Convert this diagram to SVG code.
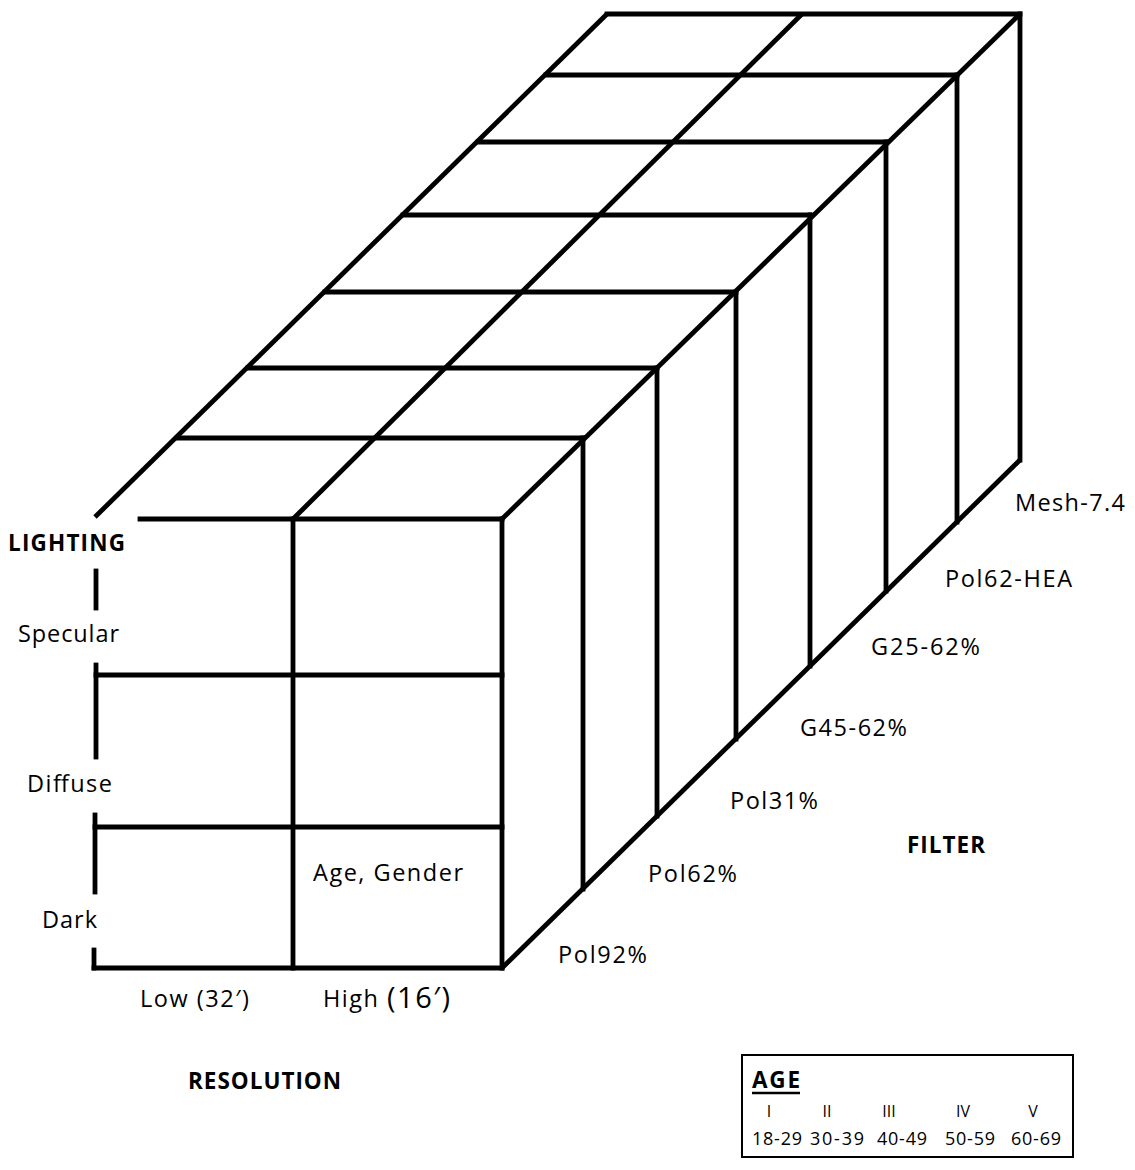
<svg xmlns="http://www.w3.org/2000/svg" width="1135" height="1170" viewBox="0 0 1135 1170">
<style>
  .ln { stroke: #000; stroke-width: 4.8; fill: none; stroke-linecap: square; stroke-linejoin: miter; }
  .dg { stroke: #000; stroke-width: 4.8; fill: none; stroke-linecap: butt; }
  .t { font-family: "Open Sans", "Liberation Sans", sans-serif; font-size: 23.5px; fill: #000; }
  .big { font-size: 29px; }
  .b { font-family: "Open Sans", "Liberation Sans", sans-serif; font-size: 22.5px; font-weight: bold; fill: #000; }
  .s { font-family: "Open Sans", "Liberation Sans", sans-serif; font-size: 18px; fill: #000; }
  .r { font-family: "Open Sans", "Liberation Sans", sans-serif; font-size: 16px; fill: #000; text-anchor: middle; }
</style>
<rect width="1135" height="1170" fill="#fff"/>

<g id="cube">
  <!-- depth lines -->
  <line class="dg" x1="95" y1="517" x2="607" y2="14"/>
  <line class="dg" x1="293" y1="519" x2="802" y2="14"/>
  <line class="dg" x1="502" y1="519" x2="1020" y2="14"/>
  <line class="dg" x1="502" y1="968" x2="1020" y2="460"/>
  <!-- top horizontals -->
  <line class="ln" x1="177" y1="438" x2="583" y2="438"/>
  <line class="ln" x1="248" y1="368" x2="657" y2="368"/>
  <line class="ln" x1="325" y1="292" x2="736" y2="292"/>
  <line class="ln" x1="403" y1="215" x2="810" y2="215"/>
  <line class="ln" x1="478" y1="142" x2="886" y2="142"/>
  <line class="ln" x1="546" y1="75" x2="957" y2="75"/>
  <line class="ln" x1="607" y1="14" x2="1020" y2="14"/>
  <!-- filter panel verticals -->
  <line class="ln" x1="583" y1="438" x2="583" y2="889"/>
  <line class="ln" x1="657" y1="368" x2="657" y2="816"/>
  <line class="ln" x1="736" y1="292" x2="736" y2="739"/>
  <line class="ln" x1="810" y1="215" x2="810" y2="666"/>
  <line class="ln" x1="886" y1="142" x2="886" y2="591"/>
  <line class="ln" x1="957" y1="75" x2="957" y2="522"/>
  <line class="ln" x1="1020" y1="14" x2="1020" y2="460"/>
  <!-- front face -->
  <line class="ln" x1="140" y1="519" x2="502" y2="519"/>
  <line class="ln" x1="96" y1="675" x2="502" y2="675"/>
  <line class="ln" x1="95" y1="827" x2="502" y2="827"/>
  <line class="ln" x1="94" y1="968" x2="502" y2="968"/>
  <line class="ln" x1="293" y1="519" x2="293" y2="968"/>
  <line class="ln" x1="502" y1="519" x2="502" y2="968"/>
  <!-- lighting axis bars -->
  <line class="ln" x1="96" y1="571" x2="96" y2="608"/>
  <line class="ln" x1="96" y1="665" x2="96" y2="757"/>
  <line class="ln" x1="95" y1="815" x2="95" y2="892"/>
  <line class="ln" x1="94" y1="950" x2="94" y2="968"/>
</g>

<g id="lighting-axis">
  <text class="b" x="8" y="551" textLength="117" lengthAdjust="spacing">LIGHTING</text>
  <text class="t" x="18" y="642" textLength="101" lengthAdjust="spacing">Specular</text>
  <text class="t" x="27" y="792" textLength="85" lengthAdjust="spacing">Diffuse</text>
  <text class="t" x="42" y="928" textLength="55" lengthAdjust="spacing">Dark</text>
</g>

<g id="resolution-axis">
  <text class="t" x="140" y="1007" textLength="109" lengthAdjust="spacing">Low (32′)</text>
  <text class="t" x="323" y="1007" textLength="55" lengthAdjust="spacing">High</text>
  <text class="t big" x="387" y="1008" textLength="63" lengthAdjust="spacing">(16′)</text>
  <text class="b" x="188" y="1089" textLength="153" lengthAdjust="spacing">RESOLUTION</text>
</g>

<g id="cell-label">
  <text class="t" x="313" y="881" textLength="150" lengthAdjust="spacing">Age, Gender</text>
</g>

<g id="filter-axis">
  <text class="t" x="558" y="963" textLength="89" lengthAdjust="spacing">Pol92%</text>
  <text class="t" x="648" y="882" textLength="89" lengthAdjust="spacing">Pol62%</text>
  <text class="t" x="730" y="809" textLength="88" lengthAdjust="spacing">Pol31%</text>
  <text class="t" x="800" y="736" textLength="107" lengthAdjust="spacing">G45-62%</text>
  <text class="t" x="871" y="655" textLength="109" lengthAdjust="spacing">G25-62%</text>
  <text class="t" x="945" y="587" textLength="127" lengthAdjust="spacing">Pol62-HEA</text>
  <text class="t" x="1015" y="511" textLength="110" lengthAdjust="spacing">Mesh-7.4</text>
  <text class="b" x="907" y="853" textLength="78" lengthAdjust="spacing">FILTER</text>
</g>

<g id="age-legend">
  <rect x="742" y="1055" width="331" height="102" fill="none" stroke="#000" stroke-width="2"/>
  <text class="b" x="752" y="1088" textLength="48" lengthAdjust="spacing">AGE</text>
  <line x1="752" y1="1093" x2="800" y2="1093" stroke="#000" stroke-width="2.5"/>
  <text class="r" x="769" y="1117">I</text>
  <text class="r" x="827" y="1117">II</text>
  <text class="r" x="889" y="1117">III</text>
  <text class="r" x="963" y="1117">IV</text>
  <text class="r" x="1033" y="1117">V</text>
  <text class="s" x="752" y="1145" textLength="50" lengthAdjust="spacing">18-29</text>
  <text class="s" x="810" y="1145" textLength="54" lengthAdjust="spacing">30-39</text>
  <text class="s" x="877" y="1145" textLength="50" lengthAdjust="spacing">40-49</text>
  <text class="s" x="945" y="1145" textLength="50" lengthAdjust="spacing">50-59</text>
  <text class="s" x="1011" y="1145" textLength="50" lengthAdjust="spacing">60-69</text>
</g>
</svg>
